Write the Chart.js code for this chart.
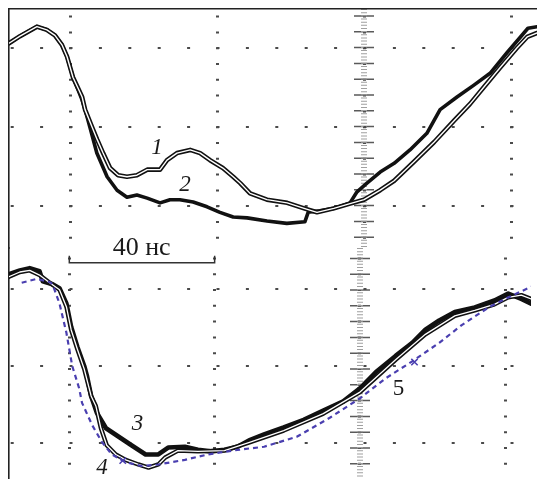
<!DOCTYPE html>
<html>
<head>
<meta charset="utf-8">
<script src="https://cdn.jsdelivr.net/npm/chart.js@4.4.1/dist/chart.umd.min.js"></script>
<style>
  html, body { margin: 0; padding: 0; background: #fff; }
  #wrap { position: relative; width: 537px; height: 484px; }
  #wrap canvas { position: absolute; left: 0; top: 0; }
</style>
</head>
<body>
<div id="wrap">
  <canvas id="topPanel" width="537" height="484"></canvas>
  <canvas id="bottomPanel" width="537" height="484"></canvas>
</div>
<script>
// time axis in ns (one division = 40 ns), amplitude in divisions
const gridTimes = [0, 40, 80, 120];
const gridLevels = [0, 1, 2];
const rulerTimes = [80];

// top panel: curves 1 and 2
const t1 = [-16.6, -13.6, -9.0, -6.3, -4.1, -2.2, -0.8, 0.8, 2.2, 3.3, 4.1, 6.0, 7.4, 9.0, 10.9, 13.1, 15.5, 18.2, 21.0, 24.5, 26.4, 29.1, 32.7, 35.4, 38.1, 41.6, 44.4, 46.3, 49.0, 53.6, 59.1, 63.7, 67.2, 71.8, 76.2, 80.0, 84.4, 88.2, 93.6, 99.1, 104.5, 108.8, 112.7, 117.0, 121.6, 124.4, 127.1];
const v1 = [2.06, 2.15, 2.27, 2.23, 2.16, 2.04, 1.89, 1.63, 1.49, 1.38, 1.22, 1.00, 0.84, 0.67, 0.48, 0.39, 0.37, 0.39, 0.46, 0.46, 0.58, 0.67, 0.71, 0.67, 0.58, 0.48, 0.37, 0.29, 0.16, 0.08, 0.04, -0.03, -0.08, -0.03, 0.03, 0.08, 0.20, 0.32, 0.56, 0.81, 1.08, 1.29, 1.51, 1.75, 2.00, 2.14, 2.19];

const t2 = [-16.6, -13.6, -9.0, -6.3, -4.1, -2.2, -0.8, 0.8, 2.2, 3.3, 4.1, 5.4, 7.3, 10.1, 12.8, 15.5, 18.2, 21.0, 24.5, 27.2, 29.9, 33.5, 37.3, 40.8, 44.4, 48.2, 53.6, 59.0, 63.9, 64.8, 68.0, 71.8, 76.2, 78.1, 80.8, 84.4, 88.2, 92.5, 97.1, 100.7, 105.3, 109.9, 114.3, 118.9, 122.4, 124.6, 127.1];
const v2 = [2.06, 2.15, 2.27, 2.23, 2.16, 2.04, 1.89, 1.63, 1.47, 1.34, 1.22, 1.00, 0.67, 0.37, 0.20, 0.11, 0.14, 0.10, 0.04, 0.08, 0.08, 0.05, -0.01, -0.08, -0.14, -0.15, -0.19, -0.22, -0.20, -0.08, -0.06, -0.03, 0.04, 0.18, 0.29, 0.43, 0.54, 0.71, 0.92, 1.22, 1.38, 1.53, 1.68, 1.94, 2.13, 2.25, 2.27];

// bottom panel: curves 3, 4 (measured) and 5 (calculated)
const t3 = [-16.6, -13.6, -10.9, -8.2, -7.3, -4.6, -2.7, -0.8, 0.5, 2.2, 4.1, 4.9, 6.0, 7.6, 10.1, 13.6, 17.1, 21.0, 24.5, 27.2, 31.8, 35.4, 38.9, 42.7, 46.3, 49.8, 53.6, 59.0, 64.5, 69.9, 75.4, 80.0, 84.4, 89.8, 94.4, 98.0, 101.8, 106.1, 111.6, 117.0, 120.8, 124.4, 127.1];
const v3 = [2.19, 2.24, 2.27, 2.23, 2.10, 2.06, 2.01, 1.81, 1.51, 1.25, 1.00, 0.86, 0.61, 0.39, 0.19, 0.08, -0.03, -0.15, -0.15, -0.06, -0.05, -0.09, -0.11, -0.09, -0.05, 0.04, 0.11, 0.20, 0.30, 0.42, 0.54, 0.71, 0.92, 1.13, 1.30, 1.47, 1.59, 1.70, 1.76, 1.85, 1.94, 1.87, 1.81];

const t4 = [-16.6, -13.6, -10.9, -8.2, -5.4, -2.7, -0.8, 0.5, 2.2, 4.1, 6.0, 7.3, 8.7, 10.3, 12.8, 15.5, 19.0, 21.8, 24.5, 26.4, 29.9, 35.4, 42.7, 49.8, 59.0, 69.9, 80.0, 89.8, 98.0, 106.1, 111.6, 117.0, 120.8, 124.4, 127.1];
const v4 = [2.16, 2.22, 2.24, 2.18, 2.08, 1.99, 1.77, 1.47, 1.22, 0.96, 0.61, 0.48, 0.19, -0.03, -0.15, -0.22, -0.28, -0.32, -0.28, -0.19, -0.10, -0.11, -0.10, 0.01, 0.16, 0.38, 0.66, 1.08, 1.41, 1.65, 1.72, 1.80, 1.89, 1.92, 1.87];

const t5 = [-13.1, -9.0, -5.4, -4.6, -2.7, -0.8, 0.8, 2.7, 3.5, 6.3, 9.0, 11.7, 15.5, 19.9, 24.5, 31.8, 38.1, 46.3, 53.6, 62.6, 71.8, 80.0, 87.1, 94.4, 101.8, 108.0, 115.4, 120.8, 126.3, 127.1];
const v5 = [2.08, 2.13, 2.09, 2.06, 1.81, 1.43, 1.00, 0.71, 0.52, 0.23, 0.01, -0.15, -0.25, -0.30, -0.28, -0.22, -0.15, -0.09, -0.05, 0.08, 0.33, 0.58, 0.84, 1.06, 1.30, 1.53, 1.76, 1.89, 2.01, 2.03];
const markerT5 = [14.7, 95.0];
const markerV5 = [-0.23, 1.05];

// 40 ns scale bar
const scaleBarT = [0, 0, 40, 40];
const scaleBarV = [2.43, 2.34, 2.34, 2.43];

const topLabels = ['1', '2'];
const topLabelT = [23.7, 31.3];
const topLabelV = [0.73, 0.27];
const bottomLabels = ['40 нс', '3', '4', '5'];
const bottomLabelT = [19.9, 18.8, 9.0, 90.6];
const bottomLabelV = [2.53, 0.25, -0.32, 0.70];

const T_MIN = -16.6, T_MAX = 127.07;
const BLUE = '#4a3fb0';
const DOT = '#4a4a4a';

function pts(ts, vs) {
  return ts.map((t, i) => ({ x: t, y: vs[i] }));
}

// draws the curve numbers and the scale bar caption
const curveLabels = {
  id: 'curveLabels',
  afterDatasetsDraw(chart, args, opts) {
    const { ctx, scales } = chart;
    ctx.save();
    ctx.fillStyle = '#1a1a1a';
    ctx.textAlign = 'center';
    ctx.textBaseline = 'middle';
    opts.texts.forEach((txt, i) => {
      ctx.font = opts.fonts[i];
      ctx.fillText(txt, scales.x.getPixelForValue(opts.ts[i]), scales.y.getPixelForValue(opts.vs[i]));
    });
    ctx.restore();
  }
};

function lineSet(data, color, width, extra) {
  return Object.assign({
    data,
    borderColor: color,
    borderWidth: width,
    pointRadius: 0,
    fill: false,
    tension: 0,
    borderJoinStyle: 'round',
    borderCapStyle: 'round'
  }, extra || {});
}

function makePanel(id, yMin, yMax, padding, dotOffset, showTopBorder, datasets, labels) {
  const ctx = document.getElementById(id).getContext('2d');
  const rulerAxis = (width, dash, color, offset) => ({
    type: 'linear', axis: 'x', position: 'top', min: T_MIN, max: T_MAX,
    afterBuildTicks: s => { s.ticks = rulerTimes.map(v => ({ value: v })); },
    ticks: { display: false },
    grid: { drawTicks: false, lineWidth: width, color },
    border: { display: false, dash, dashOffset: offset }
  });
  return new Chart(ctx, {
    type: 'line',
    data: { datasets },
    options: {
      responsive: false,
      animation: false,
      events: [],
      layout: { padding },
      scales: {
        x: {
          type: 'linear', position: 'top', min: T_MIN, max: T_MAX,
          afterBuildTicks: s => { s.ticks = gridTimes.map(v => ({ value: v })); },
          ticks: { display: false },
          grid: { drawTicks: false, lineWidth: 3, color: DOT },
          border: { display: showTopBorder, color: '#222', width: 1.6, dash: [2, 13.8], dashOffset: dotOffset }
        },
        xr1: rulerAxis(20, [1.5, 14.3], '#5a5a5a', dotOffset - 0.25),
        xr2: rulerAxis(6, [1, 2.16], '#a0a0a0', 0),
        y: {
          type: 'linear', min: yMin, max: yMax,
          afterBuildTicks: s => { s.ticks = gridLevels.map(v => ({ value: v })); },
          ticks: { display: false },
          grid: { drawTicks: false, lineWidth: 2, color: DOT },
          border: { display: true, color: '#222', width: 1.6, dash: [3, 26.4], dashOffset: 28.3 }
        }
      },
      plugins: {
        legend: { display: false },
        tooltip: { enabled: false },
        curveLabels: labels
      }
    },
    plugins: [curveLabels]
  });
}

const italic = 'italic 23px "Liberation Serif", "DejaVu Serif", serif';
const upright = '23px "Liberation Serif", "DejaVu Serif", serif';

makePanel('topPanel', -0.5316, 2.4937, { left: 9, top: 9, right: 0, bottom: 236 }, 9.8, true, [
  lineSet(pts(t1, v1), '#ffffff', 1.4),
  lineSet(pts(t1, v1), '#111111', 4.6),
  lineSet(pts(t2, v2), '#111111', 3.6)
], {
  texts: topLabels, ts: topLabelT, vs: topLabelV, fonts: [italic, italic]
});

makePanel('bottomPanel', -0.4557, 2.5316, { left: 9, top: 248, right: 0, bottom: 0 }, 6.4, false, [
  lineSet(pts(markerT5, markerV5), BLUE, 1.5, { showLine: false, pointRadius: 4.5, pointStyle: 'crossRot', pointBorderColor: BLUE, pointBorderWidth: 1.5 }),
  lineSet(pts(t5, v5), BLUE, 2.2, { borderDash: [5, 4], borderCapStyle: 'butt' }),
  lineSet(pts(t4, v4), '#ffffff', 1.3),
  lineSet(pts(t4, v4), '#111111', 4.4),
  lineSet(pts(t3, v3), '#111111', 4.6),
  lineSet(pts(scaleBarT, scaleBarV), '#333333', 1.5, { borderJoinStyle: 'miter', borderCapStyle: 'butt' })
], {
  texts: bottomLabels, ts: bottomLabelT, vs: bottomLabelV,
  fonts: ['26px "Liberation Serif", "DejaVu Serif", serif', italic, italic, upright]
});
</script>
</body>
</html>
